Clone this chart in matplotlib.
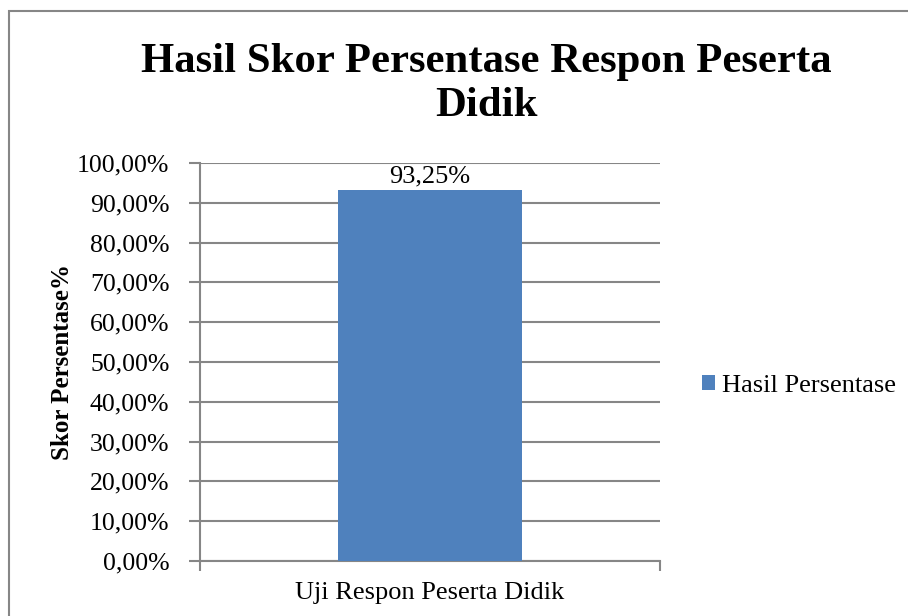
import matplotlib.pyplot as plt
from matplotlib.patches import Rectangle

# data
kategori = ['Uji Respon Peserta Didik']
nilai = [93.25]
label_nilai = ['93,25%']
seri = 'Hasil Persentase'
y_ticks = [0, 10, 20, 30, 40, 50, 60, 70, 80, 90, 100]
y_labels = ['0,00%', '10,00%', '20,00%', '30,00%', '40,00%', '50,00%',
            '60,00%', '70,00%', '80,00%', '90,00%', '100,00%']

plt.rcParams['font.family'] = ['Liberation Serif', 'DejaVu Serif']

fig = plt.figure(figsize=(9.08, 6.16), dpi=100)
ax = fig.add_axes([0.2203, 0.0893, 0.5066, 0.6461])

warna_bar = '#4f81bd'
abu = '#868686'

bars = ax.bar([0], nilai, width=0.4, color=warna_bar, label=seri, zorder=3)
ax.set_xlim(-0.5, 0.5)
ax.set_ylim(0, 100)

ax.set_yticks(y_ticks)
ax.set_yticklabels(y_labels, fontsize=18.5)
ax.set_xticks([-0.5, 0.5])
ax.set_xticklabels(['', ''])
ax.tick_params(axis='y', length=8, width=1.5, color=abu, pad=14)
ax.tick_params(axis='x', length=7, width=1.5, color=abu)

ax.grid(axis='y', color=abu, linewidth=1.5, zorder=0)
for s in ['top', 'right']:
    ax.spines[s].set_visible(False)
for s in ['left', 'bottom']:
    ax.spines[s].set_color(abu)
    ax.spines[s].set_linewidth(1.5)

ax.text(0, nilai[0] + 0.6, label_nilai[0], ha='center', va='bottom', fontsize=19)
ax.text(0, -5.3, kategori[0], ha='center', va='top', fontsize=19)

ax.set_ylabel('Skor Persentase%', fontsize=18, fontweight='bold', labelpad=2)

fig.text(0.536, 0.930, 'Hasil Skor Persentase Respon Peserta\nDidik',
         ha='center', va='top', fontsize=30.8, fontweight='bold', linespacing=1.22)

leg = fig.legend(handles=[bars], labels=[seri], loc='center left',
                 bbox_to_anchor=(0.747, 0.373), frameon=False, fontsize=19,
                 handlelength=0.5, handleheight=0.5, handletextpad=0.25)

# chart border (right and bottom edges fall outside the picture)
fig.patches.append(Rectangle((9 / 908, -0.05), 1.1, 1.05 - 11 / 616,
                             transform=fig.transFigure, fill=False,
                             edgecolor=abu, linewidth=1.5))

fig.savefig('out.png', dpi=100)
